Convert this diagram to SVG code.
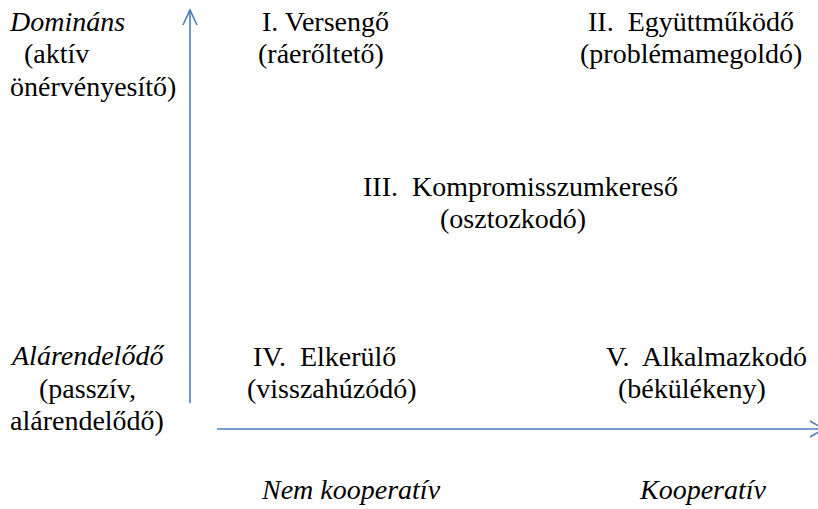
<svg xmlns="http://www.w3.org/2000/svg" width="818" height="509" viewBox="0 0 818 509">
<style>
text{font-family:"Liberation Serif","Times New Roman",serif;font-size:28px;fill:#000;white-space:pre}
.i{font-style:italic}
.axis{fill:none;stroke:#4a7ebb;stroke-width:1.6}
</style>
<rect width="818" height="509" fill="#fff"/>
<g id="connectors">
<line class="axis" x1="190" y1="403" x2="190" y2="11"/>
<polyline class="axis" points="183,25 190,10 197,25"/>
<line class="axis" x1="217" y1="429" x2="824" y2="429"/>
<polyline class="axis" points="810,421 824,429 810,437"/>
</g>
<g id="y-top">
<text class="i" x="10" y="31">Domináns</text>
<text x="10" y="63">  (aktív</text>
<text x="10" y="96">önérvényesítő)</text>
</g>
<g id="y-bottom">
<text class="i" x="12" y="365">Alárendelődő</text>
<text x="39" y="398">(passzív,</text>
<text x="10" y="430">alárendelődő)</text>
</g>
<g id="node1">
<text x="262" y="31">I. Versengő</text>
<text x="258" y="63">(ráerőltető)</text>
</g>
<g id="node2">
<text x="588" y="31">II.  Együttműködő</text>
<text x="580" y="63">(problémamegoldó)</text>
</g>
<g id="node3">
<text x="363" y="196">III.  Kompromisszumkereső</text>
<text x="440" y="228">(osztozkodó)</text>
</g>
<g id="node4">
<text x="253" y="366">IV.  Elkerülő</text>
<text x="247" y="398">(visszahúzódó)</text>
</g>
<g id="node5">
<text x="606" y="366">V.  Alkalmazkodó</text>
<text x="618" y="398">(békülékeny)</text>
</g>
<g id="x-labels">
<text class="i" x="262" y="499">Nem kooperatív</text>
<text class="i" x="640" y="499">Kooperatív</text>
</g>
</svg>
